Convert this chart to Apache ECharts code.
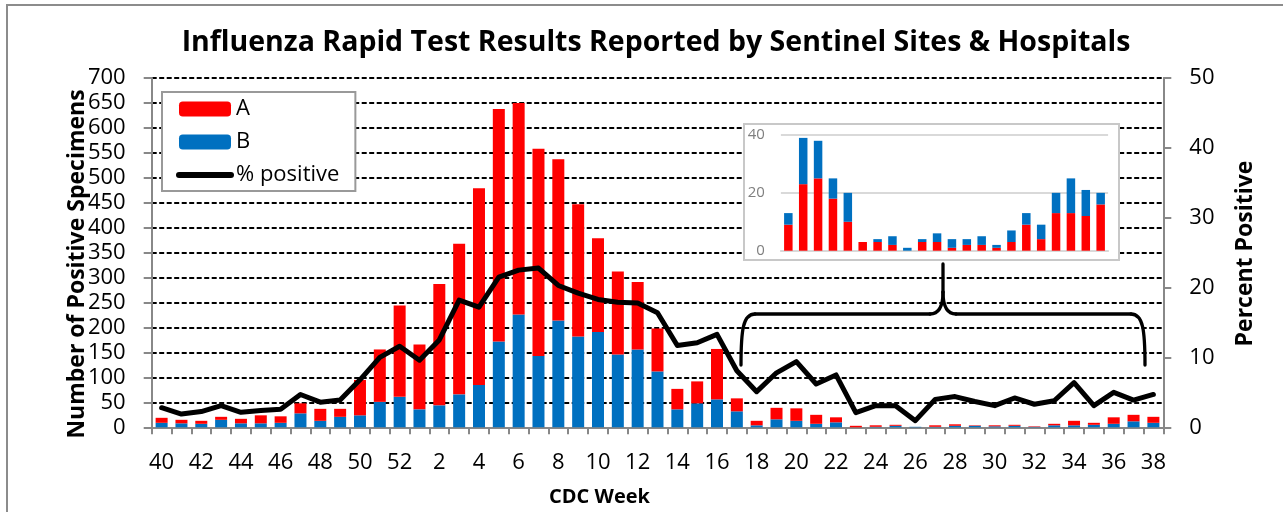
<!DOCTYPE html>
<html>
<head>
<meta charset="utf-8">
<script src="https://cdn.jsdelivr.net/npm/echarts@6/dist/echarts.min.js"></script>
<style>html,body{margin:0;padding:0;background:#fff;}#c{width:1283px;height:512px;}</style>
</head>
<body>
<div id="c"></div>
<script>
// ---- data ----
const weeks = ['40','41','42','43','44','45','46','47','48','49','50','51','52',
  '1','2','3','4','5','6','7','8','9','10','11','12','13','14','15','16','17','18','19','20',
  '21','22','23','24','25','26','27','28','29','30','31','32','33','34','35','36','37','38'];
const fluA = [10,7,6,6,9,16,13,20,24,16,71,105,183,
  130,243,302,394,466,424,415,323,265,188,166,135,86,41,44,101,26,9,23,25,
  18,10,3,3,2,0,3,3,1,2,2,1,3,9,4,13,13,12];
const fluB = [9,8,7,15,8,8,9,28,13,21,24,51,61,
  36,44,66,85,172,226,143,214,182,191,146,156,112,36,48,56,32,4,16,13,
  7,10,0,1,3,1,1,3,3,2,3,1,4,4,5,7,12,9];
const pctPositive = [2.8,1.9,2.25,3.1,2.15,2.4,2.6,4.7,3.6,3.9,6.8,10.0,11.6,
  9.6,12.5,18.2,17.2,21.5,22.5,22.8,20.3,19.2,18.3,17.9,17.8,16.4,11.7,12.1,13.3,8.1,5.1,7.8,9.4,
  6.2,7.5,2.1,3.1,3.1,0.95,4.0,4.4,3.7,3.1,4.2,3.3,3.8,6.4,3.1,5.0,3.9,4.7];
const insetWeeks = ['18','19','20','21','22','23','24','25','26','27','28','29','30','31','32','33','34','35','36','37','38','39'];
const insetA = [9,23,25,18,10,3,3,2,0,3,3,1,2,2,1,3,9,4,13,13,12,16];
const insetB = [4,16,13,7,10,0,1,3,1,1,3,3,2,3,1,4,4,5,7,12,9,4];
const leftTicks = {min:0, max:700, interval:50};
const rightTicks = {min:0, max:50, interval:10};
const insetTicks = {min:0, max:40, interval:20};

const FONT = 'Open Sans';
const RED = '#FF0000', BLUE = '#0070C0';
const chart = echarts.init(document.getElementById('c'), null, {renderer:'canvas'});

const braceStyle = {fill: 'none', stroke: '#000', lineWidth: 3.3, lineCap: 'round'};
function bz(x1,y1,cpx1,cpy1,cpx2,cpy2,x2,y2){
  return {type:'bezierCurve', silent:true, shape:{x1,y1,cpx1,cpy1,cpx2,cpy2,x2,y2}, style: braceStyle};
}
function ln(x1,y1,x2,y2){
  return {type:'line', silent:true, shape:{x1,y1,x2,y2}, style: braceStyle};
}

chart.setOption({
  animation: false,
  textStyle: {fontFamily: FONT},
  title: {
    text: 'Influenza Rapid Test Results Reported by Sentinel Sites & Hospitals',
    left: 651, top: 23, textAlign: 'center',
    textStyle: {fontFamily: FONT, fontSize: 28.5, fontWeight: 'bold', color: '#000'}
  },
  legend: {
    data: ['A','B',{name:'% positive', itemStyle:{opacity:0}, lineStyle:{width:6, cap:'round'}}],
    orient: 'vertical', left: 162, top: 92,
    padding: [6, 16, 5, 14],
    itemWidth: 52, itemHeight: 15, itemGap: 11,
    backgroundColor: '#fff', borderColor: '#999', borderWidth: 2, borderRadius: 0,
    textStyle: {fontFamily: FONT, fontSize: 22, lineHeight: 22, color: '#000'}
  },
  grid: [
    {left: 151.7, right: 119.7, top: 78, bottom: 84.7, containLabel: false},
    {left: 780.9, top: 135, width: 327.2, height: 115.7, containLabel: false}
  ],
  xAxis: [
    {
      type: 'category', gridIndex: 0, data: weeks, boundaryGap: true,
      axisLine: {lineStyle: {color: '#888', width: 2}},
      axisTick: {show: true, interval: 0, length: 7, lineStyle: {color: '#888', width: 2}},
      axisLabel: {interval: 1, margin: 24, fontFamily: FONT, fontSize: 22, color: '#000'},
      splitLine: {show: false}
    },
    {
      type: 'category', gridIndex: 1, data: insetWeeks, boundaryGap: true, z: 10,
      axisLine: {lineStyle: {color: '#d9d9d9', width: 2}},
      axisTick: {show: false}, axisLabel: {show: false}, splitLine: {show: false}
    }
  ],
  yAxis: [
    {
      type: 'value', gridIndex: 0, position: 'left',
      min: leftTicks.min, max: leftTicks.max, interval: leftTicks.interval,
      axisLine: {show: true, lineStyle: {color: '#888', width: 2}},
      axisTick: {show: true, length: 8, lineStyle: {color: '#888', width: 2}},
      axisLabel: {margin: 26, fontFamily: FONT, fontSize: 22, color: '#000'},
      splitLine: {show: true, lineStyle: {color: '#000', width: 2, type: [5, 2.5]}}
    },
    {
      type: 'value', gridIndex: 0, position: 'right',
      min: rightTicks.min, max: rightTicks.max, interval: rightTicks.interval,
      axisLine: {show: true, lineStyle: {color: '#888', width: 2}},
      axisTick: {show: true, length: 8, lineStyle: {color: '#888', width: 2}},
      axisLabel: {margin: 26, fontFamily: FONT, fontSize: 22, color: '#000'},
      splitLine: {show: false}
    },
    {
      type: 'value', gridIndex: 1,
      min: insetTicks.min, max: insetTicks.max, interval: insetTicks.interval, z: 10,
      axisLine: {show: false}, axisTick: {show: false},
      axisLabel: {margin: 16, fontFamily: FONT, fontSize: 15, color: '#7f7f7f'},
      splitLine: {show: true, lineStyle: {color: '#d9d9d9', width: 2}}
    }
  ],
  series: [
    {name: 'B', type: 'bar', stack: 'main', xAxisIndex: 0, yAxisIndex: 0, data: fluB,
      barWidth: 12, itemStyle: {color: BLUE}},
    {name: 'A', type: 'bar', stack: 'main', xAxisIndex: 0, yAxisIndex: 0, data: fluA,
      barWidth: 12, itemStyle: {color: RED}},
    {name: '% positive', type: 'line', xAxisIndex: 0, yAxisIndex: 1, data: pctPositive,
      symbol: 'none', showSymbol: false, z: 5,
      itemStyle: {color: '#000'},
      lineStyle: {color: '#000', width: 5, cap: 'round', join: 'round'}},
    {name: 'A inset', type: 'bar', stack: 'inset', xAxisIndex: 1, yAxisIndex: 2, data: insetA,
      barWidth: 8.5, z: 12, itemStyle: {color: RED}},
    {name: 'B inset', type: 'bar', stack: 'inset', xAxisIndex: 1, yAxisIndex: 2, data: insetB,
      barWidth: 8.5, z: 12, itemStyle: {color: BLUE}}
  ],
  graphic: [
    {type: 'rect', z: 100, silent: true, shape: {x: 7, y: 5, width: 1300, height: 540},
      style: {fill: 'none', stroke: '#8c8c8c', lineWidth: 2}},
    {type: 'rect', z: 6, silent: true, shape: {x: 744, y: 124, width: 375, height: 136},
      style: {fill: '#fff', stroke: '#c8c8c8', lineWidth: 2}},
    {type: 'group', z: 8, silent: true, children: [
      bz(741,365, 741,330, 743,314, 755,314),
      ln(755,314, 930,314),
      bz(930,314, 939,314, 943,306, 943,292),
      ln(943,292, 943,264),
      bz(943,292, 943,306, 947,314, 956,314),
      ln(956,314, 1131,314),
      bz(1131,314, 1143,314, 1145,330, 1145,365)
    ]},
    {type: 'text', z: 8, x: 77, y: 264, rotation: Math.PI / 2,
      style: {text: 'Number of Positive Specimens', fontFamily: FONT, fontSize: 23, fontWeight: 'bold', fill: '#000',
        align: 'center', verticalAlign: 'middle'}},
    {type: 'text', z: 8, x: 1245, y: 253.5, rotation: Math.PI / 2,
      style: {text: 'Percent Positive', fontFamily: FONT, fontSize: 23, fontWeight: 'bold', fill: '#000',
        align: 'center', verticalAlign: 'middle'}},
    {type: 'text', z: 8, x: 599.5, y: 497.5,
      style: {text: 'CDC Week', fontFamily: FONT, fontSize: 20, fontWeight: 'bold', fill: '#000',
        align: 'center', verticalAlign: 'middle'}}
  ]
});
</script>
</body>
</html>
